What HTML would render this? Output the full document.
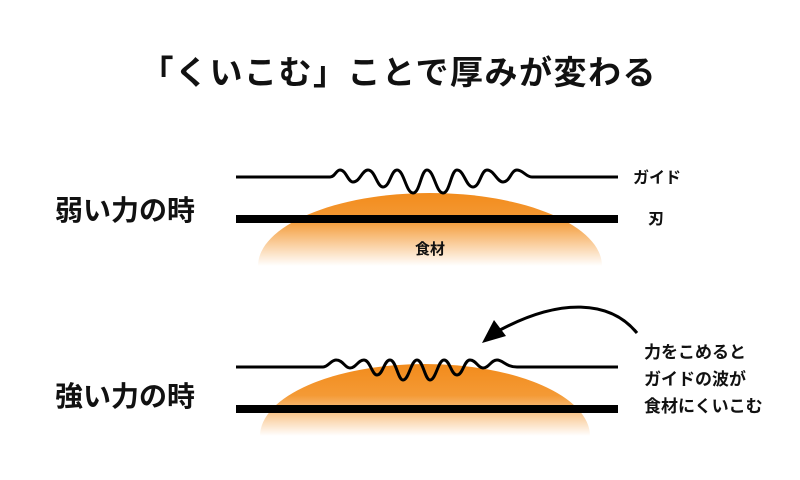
<!DOCTYPE html>
<html><head><meta charset="utf-8"><style>
html,body{margin:0;padding:0;background:#fff;width:800px;height:480px;overflow:hidden;}
svg{display:block;}
text{font-family:"Liberation Sans","Noto Sans CJK JP",sans-serif;font-weight:bold;fill:#111;}
</style></head><body>
<svg width="800" height="480" viewBox="0 0 800 480" xmlns="http://www.w3.org/2000/svg">
<defs>
<linearGradient id="g1" gradientUnits="userSpaceOnUse" x1="0" y1="190" x2="0" y2="266">
<stop offset="0" stop-color="#f28a1a"/>
<stop offset="0.4" stop-color="#f49a35"/>
<stop offset="1" stop-color="#ffffff"/>
</linearGradient>
<linearGradient id="g2" gradientUnits="userSpaceOnUse" x1="0" y1="362" x2="0" y2="436">
<stop offset="0" stop-color="#f28a1a"/>
<stop offset="0.45" stop-color="#f49a35"/>
<stop offset="1" stop-color="#ffffff"/>
</linearGradient>
</defs>
<text x="398" y="84" font-size="33" text-anchor="middle" textLength="515" lengthAdjust="spacing">「くいこむ」ことで厚みが変わる</text>

<!-- top -->
<path d="M258 266 A172 73 0 0 1 602 266 Z" fill="url(#g1)"/>
<rect x="236" y="215" width="382" height="8" fill="#000"/>
<path d="M236 177 L330 177 C335 177 336 170 340 170 C346 170 348 182 353 182 C360 182 362 170 368 170 C375 170 377 187 383 187 C390 187 391 170 397 170 C404 170 406 193 413 193 C420 193 421 170 427 170 C434 170 436 193 443 193 C450 193 451 170 457 170 C464 170 466 187 473 187 C480 187 481 170 487 170 C494 170 497 182 503 182 C510 182 511 170 517 170 C523 170 526 177 532 177 L618 177" fill="none" stroke="#000" stroke-width="3"/>
<text x="55" y="220" font-size="28">弱い力の時</text>
<text x="633" y="183" font-size="16">ガイド</text>
<text x="648" y="224" font-size="16">刃</text>
<text x="430" y="254" font-size="15" text-anchor="middle">食材</text>

<!-- bottom -->
<path d="M260 436 A165 72 0 0 1 590 436 Z" fill="url(#g2)"/>
<rect x="236" y="405" width="382" height="8" fill="#000"/>
<path d="M236 367 L323 367 C328 367 331 360 336 360 C343 360 345 368 350 368 C356 368 358 360 364 360 C370 360 372 375 377 375 C383 375 384 360 390 360 C396 360 398 380 403 380 C409 380 411 360 417 360 C423 360 425 380 430 380 C436 380 438 360 444 360 C450 360 451 375 457 375 C463 375 464 360 470 360 C476 360 478 368 483 368 C489 368 491 360 497 360 C503 360 506 367 517 367 L618 367" fill="none" stroke="#000" stroke-width="3"/>
<path d="M637 333 C610 300 560 298 500 330" fill="none" stroke="#000" stroke-width="3"/>
<polygon points="482,343 494,320 506,336" fill="#000"/>
<text x="55" y="406" font-size="28">強い力の時</text>
<text x="644" y="358" font-size="17">力をこめると</text>
<text x="644" y="385" font-size="17">ガイドの波が</text>
<text x="644" y="412" font-size="17">食材にくいこむ</text>
</svg>
</body></html>
